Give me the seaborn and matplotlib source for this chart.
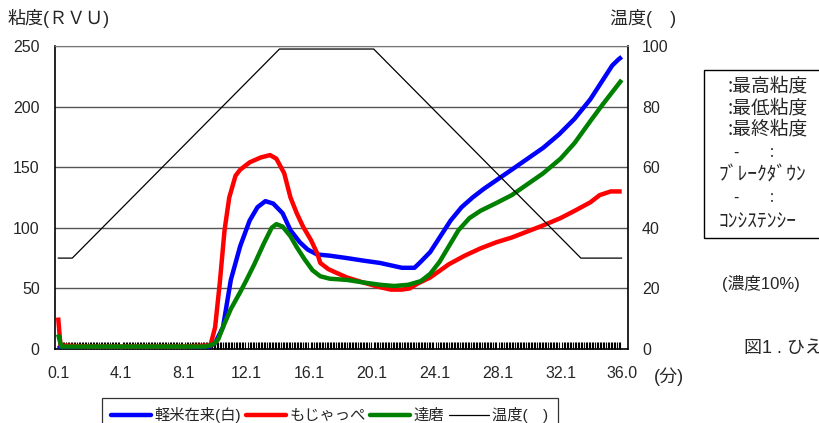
import numpy as np
import pandas as pd
import seaborn as sns
import matplotlib.pyplot as plt
from matplotlib.lines import Line2D
from matplotlib.patches import Rectangle

# 軽米在来(白)
t_blue = [0.1, 0.3, 2.0, 4.0, 6.0, 8.0, 9.6, 10.1, 10.6, 11.1, 11.7, 12.3, 12.8, 13.3, 13.8,
          14.4, 14.9, 15.5, 16.0, 16.6, 17.4, 18.5, 19.5, 20.6, 21.3, 22.0, 22.8, 23.2, 23.8,
          24.4, 25.1, 25.8, 26.5, 27.2, 28.1, 29.0, 30.0, 31.0, 32.0, 33.0, 34.0, 34.8, 35.4,
          35.8, 36.0]
v_blue = [3, 1, 1, 1, 1, 1, 1, 5, 18, 57, 85, 106, 117, 122, 120,
          112, 98, 88, 82, 78, 77, 75, 73, 71, 69, 67, 67, 72, 80,
          92, 106, 117, 125, 132, 140, 148, 157, 166, 177, 190, 206, 222, 234,
          239, 241]

# もじゃっぺ
t_red = [0.1, 0.25, 2.0, 4.0, 6.0, 8.0, 9.8, 10.1, 10.4, 10.7, 11.0, 11.4, 11.7, 12.3, 13.0,
         13.6, 14.0, 14.5, 14.9, 15.3, 15.7, 16.2, 16.6, 16.8, 17.3, 17.8, 18.5, 19.5, 20.6,
         21.3, 22.0, 22.5, 23.0, 23.8, 25.0, 26.0, 27.0, 28.0, 29.0, 30.0, 31.0, 32.1, 33.0,
         34.0, 34.6, 35.3, 36.0]
v_red = [26, 3, 2, 2, 2, 2, 3, 18, 55, 98, 125, 143, 148, 154, 158,
         160, 157, 145, 125, 112, 101, 90, 79, 71, 66, 63, 59, 55, 51,
         49, 49, 50, 54, 59, 70, 77, 83, 88, 92, 97, 102, 108, 114,
         121, 127, 130, 130]

# 達磨
t_green = [0.1, 0.3, 2.0, 4.0, 6.0, 8.0, 9.5, 10.0, 10.3, 10.6, 11.1, 11.7, 12.1, 12.6, 13.2,
           13.7, 14.0, 14.4, 14.9, 15.3, 15.8, 16.3, 16.8, 17.4, 18.5, 19.5, 20.6, 21.5, 22.4,
           23.2, 23.8, 24.4, 25.0, 25.6, 26.3, 27.0, 28.1, 29.0, 30.0, 31.0, 32.1, 33.0, 34.0,
           34.8, 35.4, 36.0]
v_green = [12, 2, 2, 2, 2, 2, 2, 4, 8, 18, 33, 47, 57, 70, 87,
           100, 103, 101, 93, 84, 74, 65, 60, 58, 57, 55, 53, 52, 53,
           56, 62, 72, 85, 98, 108, 114, 121, 127, 136, 145, 157, 170, 188,
           202, 212, 222]

# 温度
t_temp = [0.1, 1.0, 14.2, 20.2, 33.4, 36.0]
v_temp = [30, 30, 99, 99, 30, 30]

x_ticks = [0.1, 4.1, 8.1, 12.1, 16.1, 20.1, 24.1, 28.1, 32.1, 36.0]
y_ticks = [0, 50, 100, 150, 200, 250]
y2_ticks = [0, 20, 40, 60, 80, 100]

sns.set_style('white')
plt.rcParams['font.family'] = ['Liberation Sans', 'Noto Sans CJK JP', 'DejaVu Sans']
cjk = ['Noto Sans CJK JP', 'DejaVu Sans']

fig = plt.figure(figsize=(8.2, 4.23), dpi=100)
ax = fig.add_axes([55 / 820, 1 - 349 / 423, 573 / 820, 303 / 423])

curves = [
    ('軽米在来(白)', t_blue, v_blue, '#0000ff'),
    ('もじゃっぺ', t_red, v_red, '#ff0000'),
    ('達磨', t_green, v_green, '#008000'),
]
for name, t, v, c in curves:
    df = pd.DataFrame({'t': t, 'v': v})
    sns.lineplot(data=df, x='t', y='v', ax=ax, color=c, linewidth=3.2,
                 solid_capstyle='butt', zorder=3)

ax.set_xlim(-0.1, 36.4)
ax.set_ylim(0, 250)
ax.set_xticks(x_ticks)
ax.set_xticklabels(['%.1f' % x for x in x_ticks], fontsize=11.5)
ax.set_xticks(np.arange(0.1, 36.05, 0.1), minor=True)
ax.tick_params(axis='x', which='minor', direction='in', length=5, width=0.8,
               color='black', bottom=True)
ax.tick_params(axis='x', which='major', length=0, pad=12)
ax.set_yticks(y_ticks)
ax.set_yticklabels([str(y) for y in y_ticks], fontsize=11.5)
ax.tick_params(axis='y', length=0, pad=11)
ax.set_xlabel('')
ax.set_ylabel('')
ax.yaxis.grid(True, color='#555555', linewidth=1.0)
ax.set_axisbelow(True)
for s in ['left', 'bottom', 'right']:
    ax.spines[s].set_color('black')
    ax.spines[s].set_linewidth(1.2)
ax.spines['top'].set_color('#777777')

ax2 = ax.twinx()
df_t = pd.DataFrame({'t': t_temp, 'v': v_temp})
sns.lineplot(data=df_t, x='t', y='v', ax=ax2, color='black', linewidth=0.9)
ax2.set_ylim(0, 100)
ax2.set_yticks(y2_ticks)
ax2.set_yticklabels([str(y) for y in y2_ticks], fontsize=11.5)
ax2.tick_params(axis='y', length=0, pad=10)
ax2.set_ylabel('')
ax2.set_xlabel('')
for s in ax2.spines.values():
    s.set_visible(False)

# axis titles
fig.text(8 / 820, 1 - 19 / 423, '粘度(ＲＶＵ)', fontsize=13, va='center', ha='left')
fig.text(610 / 820, 1 - 19 / 423, '温度(　)', fontsize=13, va='center', ha='left')
fig.text(654 / 820, 1 - 377 / 423, '(分)', fontsize=13, va='center', ha='left')

# legend under the plot (cut by the figure edge like the original)
handles = [Line2D([], [], color=c, linewidth=3.2) for _, _, _, c in curves]
handles.append(Line2D([], [], color='black', linewidth=0.9))
labels = [n for n, _, _, _ in curves] + ['温度(　)']
leg = fig.legend(handles, labels, loc='upper left', bbox_to_anchor=(102 / 820, 1 - 398 / 423),
                 ncol=4, fontsize=11, frameon=True, fancybox=False, handlelength=2.6,
                 handletextpad=0.25, columnspacing=0.3, borderpad=0.6, borderaxespad=0)
leg.get_frame().set_edgecolor('black')
leg.get_frame().set_linewidth(0.9)

# side box with notes
fig.patches.append(Rectangle((704 / 820, 1 - 238 / 423), 140 / 820, 168 / 423,
                             transform=fig.transFigure, fill=False, edgecolor='black',
                             linewidth=1.0))
notes = [(':最高粘度', 728, 86, 13.5), (':最低粘度', 728, 108, 13.5),
         (':最終粘度', 728, 129, 13.5), ('-　　:', 734, 152, 11),
         ('ﾌﾞﾚｰｸﾀﾞｳﾝ', 719, 175, 14), ('-　　:', 734, 197, 11),
         ('ｺﾝｼｽﾃﾝｼｰ', 719, 222, 14)]
for txt, xx, yy, fs in notes:
    fig.text(xx / 820, 1 - yy / 423, txt, fontsize=fs, va='center', ha='left', family=cjk)

fig.text(722 / 820, 1 - 283 / 423, '(濃度10%)', fontsize=12, va='center', ha='left')
fig.text(744 / 820, 1 - 349 / 423, '図1 . ひえ', fontsize=13, va='center', ha='left')

fig.savefig('out.png', dpi=100)
